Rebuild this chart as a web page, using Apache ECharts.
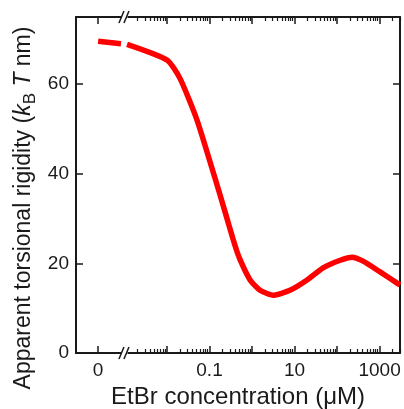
<!DOCTYPE html>
<html>
<head>
<meta charset="utf-8">
<script src="https://cdn.jsdelivr.net/npm/echarts@6/dist/echarts.min.js"></script>
<style>
  html, body { margin: 0; padding: 0; background: #fff; }
  #chart { width: 404px; height: 409px; }
</style>
</head>
<body>
<div id="chart"></div>
<script>
// zero-concentration point, drawn dashed up to the axis break
const zeroConc = [0, 0.00115];
const zeroRigidity = [69.6, 68.9];

// EtBr concentration (uM) and apparent torsional rigidity (kBT nm)
const concentration = [0.00115, 0.01, 0.0202, 0.0508, 0.135, 0.232, 0.398, 0.52, 0.9, 1.54, 3.12, 7.8, 19.7, 46.9, 118, 225, 409, 1028, 2580, 3030];
const rigidity = [68.9, 65.4, 61.3, 52, 39, 31.5, 24, 20.9, 16.3, 14, 12.9, 14, 16.3, 19, 20.7, 21.4, 20.5, 18.1, 15.6, 15.2];

const xLabels = ["0", "0.1", "10", "1000"];
const xLabelConc = [0, 0.1, 10, 1000];
const majorConc = [0, 0.01, 0.1, 1, 10, 100, 1000];
const yTicks = [0, 20, 40, 60];

// log axis with a broken segment holding the "0" point
const ZERO_POS = -3.62;
const BREAK_POS = -3.0;
const X_MIN = -4.14;
const X_MAX = 3.48;
const Y_MAX = 75;

function toPos(c) {
  return c === 0 ? ZERO_POS : Math.log10(c);
}

const minorPos = [];
for (let d = -3; d <= 3; d++) {
  for (let k = 2; k <= 9; k++) {
    const p = Math.log10(k * Math.pow(10, d));
    if (p > BREAK_POS + 0.2 && p < X_MAX) minorPos.push(p);
  }
}

const axisColor = "#1a1a1a";
const textColor = "#1a1a1a";
const font = "Liberation Sans, Arial, sans-serif";

function xAxisDef(position, major, withLabels) {
  return {
    type: "value",
    position: position,
    min: X_MIN,
    max: X_MAX,
    splitLine: { show: false },
    axisLine: { show: major, onZero: false, lineStyle: { color: axisColor, width: 2 } },
    axisTick: {
      show: true,
      inside: true,
      length: major ? 7 : 4,
      lineStyle: { color: axisColor, width: major ? 1.5 : 1.2 },
      customValues: major ? majorConc.map(toPos) : minorPos,
    },
    axisLabel: {
      show: withLabels,
      customValues: xLabelConc.map(toPos),
      formatter: (v) => {
        const i = xLabelConc.findIndex((c) => Math.abs(toPos(c) - v) < 1e-6);
        return i >= 0 ? xLabels[i] : "";
      },
      color: textColor,
      fontSize: 19,
      fontFamily: font,
      margin: 8,
    },
    name: withLabels ? "EtBr concentration (μM)" : "",
    nameLocation: "middle",
    nameGap: 28,
    nameTextStyle: { color: textColor, fontSize: 24, fontFamily: font },
  };
}

function yAxisDef(position, withLabels) {
  return {
    type: "value",
    position: position,
    min: 0,
    max: Y_MAX,
    splitLine: { show: false },
    axisLine: { show: true, onZero: false, lineStyle: { color: axisColor, width: 2 } },
    axisTick: {
      show: true,
      inside: true,
      length: 7,
      lineStyle: { color: axisColor, width: 1.5 },
      customValues: yTicks,
    },
    axisLabel: {
      show: withLabels,
      customValues: yTicks,
      color: textColor,
      fontSize: 19,
      fontFamily: font,
      margin: 7,
    },
    name: withLabels
      ? "{n|Apparent torsional rigidity (}{i|k}{s|B}{i| T}{n| nm)}"
      : "",
    nameLocation: "middle",
    nameRotate: 90,
    nameGap: 37,
    nameMoveOverlap: false,
    nameTextStyle: {
      color: textColor,
      fontSize: 23,
      fontFamily: font,
      padding: [0, 46, 0, 0],
      rich: {
        n: { fontSize: 23, fontFamily: font, color: textColor },
        i: { fontSize: 23, fontFamily: font, fontStyle: "italic", color: textColor },
        s: { fontSize: 17, fontFamily: font, color: textColor, padding: [14, 0, 0, 0] },
      },
    },
  };
}

const chart = echarts.init(document.getElementById("chart"), null, { renderer: "canvas" });

const option = {
  animation: false,
  backgroundColor: "#fff",
  grid: { left: 76, right: 4, top: 17, bottom: 56, outerBoundsMode: "none" },
  xAxis: [
    xAxisDef("bottom", true, true),
    xAxisDef("bottom", false, false),
    xAxisDef("top", true, false),
    xAxisDef("top", false, false),
  ],
  yAxis: [yAxisDef("left", true), yAxisDef("right", false)],
  series: [
    {
      type: "line",
      name: "zero",
      data: zeroConc.map((c, i) => [toPos(c), zeroRigidity[i]]),
      showSymbol: false,
      lineStyle: { color: "#ff0000", width: 5.5, type: [23, 40] },
    },
    {
      type: "line",
      name: "rigidity",
      data: concentration.map((c, i) => [toPos(c), rigidity[i]]),
      showSymbol: false,
      smooth: 0.2,
      lineStyle: { color: "#ff0000", width: 5.5 },
    },
  ],
};
chart.setOption(option);

// axis break marks "//" on bottom and top axes
const bx = chart.convertToPixel({ xAxisIndex: 0 }, BREAK_POS);
const yBottom = chart.convertToPixel({ yAxisIndex: 0 }, 0);
const yTop = chart.convertToPixel({ yAxisIndex: 0 }, Y_MAX);
const breakMarks = [];
[yBottom, yTop].forEach((ay) => {
  breakMarks.push({
    type: "rect",
    shape: { x: bx - 3, y: ay - 3, width: 6, height: 6 },
    style: { fill: "#fff" },
    z: 100,
  });
  [-3, 2].forEach((dx) => {
    breakMarks.push({
      type: "line",
      shape: { x1: bx + dx - 2.5, y1: ay + 6, x2: bx + dx + 2.5, y2: ay - 6 },
      style: { stroke: axisColor, lineWidth: 1.5 },
      z: 101,
    });
  });
});
chart.setOption({ graphic: breakMarks });
</script>
</body>
</html>
